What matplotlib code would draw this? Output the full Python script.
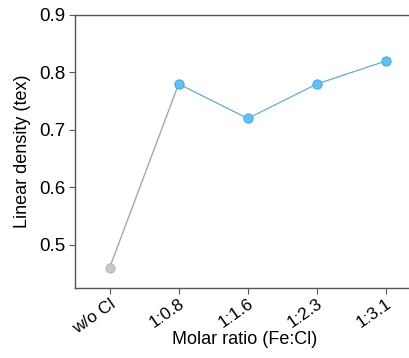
import numpy as np
import matplotlib
matplotlib.use("Agg")
import matplotlib.pyplot as plt

plt.rcParams['font.family'] = ['Liberation Sans', 'DejaVu Sans']

categories = ["w/o Cl", "1:0.8", "1:1.6", "1:2.3", "1:3.1"]
density = [0.46, 0.78, 0.72, 0.78, 0.82]

x = np.arange(len(categories))

fig = plt.figure(figsize=(4.09, 3.58), dpi=100)
ax = fig.add_axes([75 / 409, 1 - 288 / 358, 340 / 409, 273 / 358])

# grey link from the reference sample, blue line across the Cl series
ax.plot(x[:2], density[:2], color="#a8a8a8", lw=1.0, zorder=2)
ax.plot(x[1:], density[1:], color="#4aa6d8", lw=0.8, zorder=2)
ax.scatter(x[0], density[0], s=45, color="#c8c8c8", edgecolor="#b0b0b0", lw=0.6, zorder=3)
ax.scatter(x[1:], density[1:], s=45, color="#5cc2f7", edgecolor="#3aa0e0", lw=0.6, zorder=3)

ax.set_xlim(-0.5, 4.42)
ax.set_ylim(0.425, 0.9)
ax.set_yticks([0.5, 0.6, 0.7, 0.8, 0.9])
ax.set_xticks(x)
ax.set_xticklabels(categories, rotation=35, ha="right", rotation_mode="anchor")

for side in ["left", "bottom", "top"]:
    ax.spines[side].set_color("#555555")
    ax.spines[side].set_linewidth(1.0)
ax.spines["right"].set_visible(False)
ax.tick_params(direction="out", length=4, width=0.8, color="#555555", pad=3)
ax.tick_params(axis="y", labelsize=13.5)
ax.tick_params(axis="x", labelsize=12.5, pad=2)

ax.set_xlabel("Molar ratio (Fe:Cl)", fontsize=13, labelpad=-4)
ax.set_ylabel("Linear density (tex)", fontsize=13, labelpad=6)

fig.savefig("out.png", dpi=100)
